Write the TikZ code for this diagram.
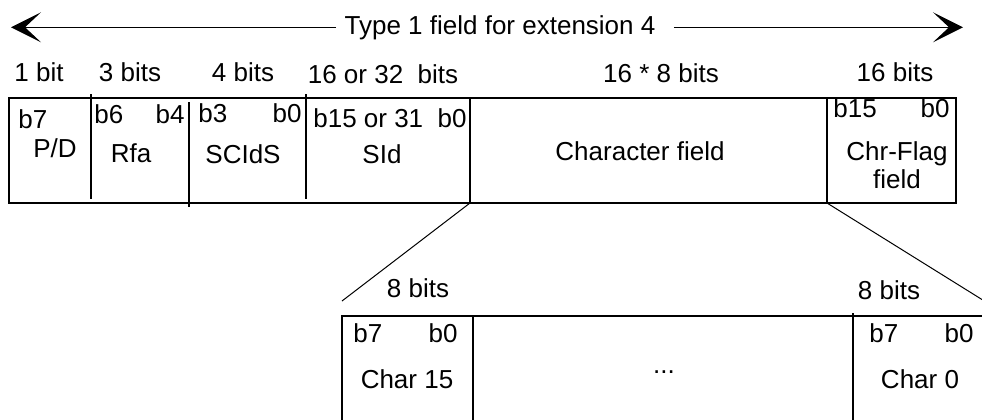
\documentclass[tikz,border=0pt]{standalone}
\usepackage{fontspec}
\setmainfont{Liberation Sans}
\usetikzlibrary{arrows.meta}

\tikzset{
  fieldline/.style={line width=1.3pt},
  zoomline/.style={line width=0.5pt},
  txt/.style={inner sep=0pt,anchor=base},
  txtl/.style={inner sep=0pt,anchor=base west},
  txtr/.style={inner sep=0pt,anchor=base east},
  bigtip/.style={-{Stealth[length=15pt,width=15pt,inset=8pt]}}
}

\begin{document}
\begin{tikzpicture}[x=0.5pt,y=-0.5pt,font=\fontsize{13}{15}\selectfont]
	\useasboundingbox (0,0) rectangle (982,419);
	% extent of the whole field
	\node[txt] (title) at (500,34) {Type 1 field for extension 4};
	\coordinate (lefttip) at (11,29);
	\coordinate (righttip) at (963,29);
	\draw[zoomline,bigtip,shorten <=4pt] (title.west) -- (title.west -| lefttip);
	\draw[zoomline,bigtip,shorten <=9pt] (title.east) -- (title.east -| righttip);
	% sizes of the fields
	\node[txt] (szpd) at (39,81) {1 bit};
	\node[txt] (szrfa) at (130,81) {3 bits};
	\node[txt] (szscids) at (243,81) {4 bits};
	\node[txt] (szsid) at (383,83) {16 or 32\ \ bits};
	\node[txt] (szchar) at (661,82) {16 * 8 bits};
	\node[txt] (szflag) at (895,81) {16 bits};
	% the field itself
	\coordinate (boxtl) at (9,98);
	\coordinate (boxbr) at (956,203);
	\draw[fieldline] (boxtl) rectangle (boxbr);
	\draw[fieldline] (91,94) -- (91,199);
	\draw[fieldline] (189,102) -- (189,207);
	\draw[fieldline] (306,94) -- (306,199);
	\draw[fieldline] (470,98) coordinate (chartop) -- (470,203) coordinate (charbot);
	\draw[fieldline] (827,98) coordinate (flagtop) -- (827,203) coordinate (flagbot);
	% P/D
	\node[txtl] (pdhi) at (18,128) {b7};
	\node[txt] (pd) at (55,157) {P/D};
	% Rfa
	\node[txtl] (rfahi) at (94,123) {b6};
	\node[txtr] (rfalo) at (185,123) {b4};
	\node[txt] (rfa) at (131,162) {Rfa};
	% SCIdS
	\node[txtl] (scidshi) at (198,122) {b3};
	\node[txtr] (scidslo) at (302,122) {b0};
	\node[txt] (scids) at (243,163) {SCIdS};
	% SId
	\node[txtr] (sidbits) at (467,127) {b15 or 31\ \ b0};
	\node[txt] (sid) at (382,163) {SId};
	% characters and flags
	\node[txt] (charfield) at (640,160) {Character field};
	\node[txtl] (flaghi) at (833,117) {b15};
	\node[txtr] (flaglo) at (950,117) {b0};
	\node[txt] (flag) at (897,160) {Chr-Flag};
	\node[txt] (flagfield) at (897,188) {field};
	% the character field in detail
	\coordinate (rowtl) at (342,316);
	\coordinate (leftend) at (342,301);
	\coordinate (rightend) at (994,307);
	\draw[zoomline] (charbot) -- (leftend);
	\draw[zoomline] (flagbot) -- (rightend);
	\draw[fieldline] (342,425) -- (rowtl) -- (990,316);
	\draw[fieldline] (473,316) -- (473,425);
	\draw[fieldline] (853,313) -- (853,425);
	\node[txt] (szfirst) at (418,297) {8 bits};
	\node[txt] (szlast) at (889,299) {8 bits};
	\node[txtl] (firsthi) at (353,342) {b7};
	\node[txtr] (firstlo) at (458,342) {b0};
	\node[txt] (first) at (407,388) {Char 15};
	\node[txt] (dots) at (664,373) {...};
	\node[txtl] (lasthi) at (869,342) {b7};
	\node[txtr] (lastlo) at (974,342) {b0};
	\node[txt] (last) at (920,388) {Char 0};
\end{tikzpicture}
\end{document}
